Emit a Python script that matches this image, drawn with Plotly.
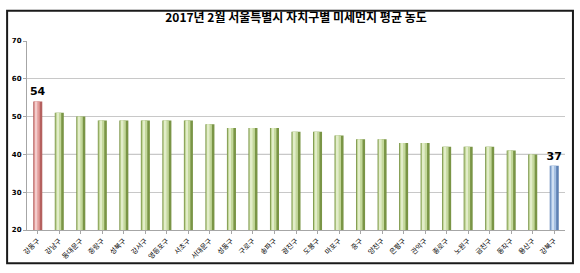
import plotly.graph_objects as go

title = "2017년 2월 서울특별시 자치구별 미세먼지 평균 농도"
districts = ["강동구", "강남구", "동대문구", "중랑구", "성북구", "강서구", "영등포구", "서초구",
             "서대문구", "성동구", "구로구", "송파구", "광진구", "도봉구", "마포구", "중구",
             "양천구", "은평구", "관악구", "종로구", "노원구", "금천구", "동작구", "용산구", "강북구"]
values = [54, 51, 50, 49, 49, 49, 49, 49, 48, 47, 47, 47, 46, 46, 45, 44,
          44, 43, 43, 42, 42, 42, 41, 40, 37]
y_ticks = [20, 30, 40, 50, 60, 70]

W, H = 580, 273
L, R, T, B = 24, 15, 41, 39
pw, ph = W - L - R, H - T - B

def px(x):
    return (x - L) / pw

def py(y):
    return (H - B - y) / ph

n = len(values)
dark = ["#b5615f" if i == 0 else ("#5d80b3" if i == n - 1 else "#7a9546") for i in range(n)]
mid = ["#e39c9a" if i == 0 else ("#a4bfe2" if i == n - 1 else "#c4d89c") for i in range(n)]
light = ["#f3cccb" if i == 0 else ("#cfdff2" if i == n - 1 else "#e2edc9") for i in range(n)]
labels = ["<b>" + str(v) + "</b>" if i in (0, n - 1) else "" for i, v in enumerate(values)]

fig = go.Figure()
fig.add_trace(go.Bar(x=districts, y=values, width=0.42, marker=dict(color=dark, line=dict(width=0)),
                     hoverinfo="skip"))
fig.add_trace(go.Bar(x=districts, y=values, width=0.26, offset=-0.17, marker=dict(color=mid, line=dict(width=0)),
                     hoverinfo="skip"))
fig.add_trace(go.Bar(x=districts, y=values, width=0.08, offset=-0.1, marker=dict(color=light, line=dict(width=0)),
                     hoverinfo="skip"))
fig.add_trace(go.Bar(x=districts, y=values, width=0.42, marker=dict(color="rgba(0,0,0,0)", line=dict(width=0)),
                     text=labels, textposition="outside", cliponaxis=False, constraintext="none",
                     textfont=dict(family="DejaVu Sans", size=11, color="#000000"),
                     hoverinfo="skip"))

shapes = [
    dict(type="line", xref="paper", yref="y", x0=0, x1=1, y0=40, y1=40,
         line=dict(color="#6f6f6f", width=1), layer="below"),
    dict(type="rect", xref="paper", yref="paper", x0=px(4), x1=px(573), y0=py(10), y1=py(268),
         line=dict(color="#1a1a1a", width=2), layer="below"),
]

fig.update_layout(
    width=W, height=H,
    margin=dict(l=L, r=R, t=T, b=B),
    paper_bgcolor="white", plot_bgcolor="white",
    barmode="overlay", bargap=0.2, showlegend=False,
    shapes=shapes,
    title=dict(text="<b>" + title + "</b>", x=0.5, xref="paper", xanchor="center",
               y=1 - 18 / H, yanchor="middle",
               font=dict(family="Noto Sans CJK KR", size=12, color="#000000")),
    xaxis=dict(tickangle=-45, tickfont=dict(family="Noto Sans CJK KR", size=7, color="#000000"),
               showline=True, linecolor="#a6a6a6", linewidth=1, ticks="outside", ticklen=3,
               tickcolor="#a6a6a6", showgrid=False, fixedrange=True),
    yaxis=dict(range=[20, 70], tickvals=y_ticks, ticktext=["<b>%d</b>" % v for v in y_ticks],
               showline=True, linecolor="#a6a6a6",
               ticks="outside", ticklen=3, tickcolor="#a6a6a6",
               gridcolor="#c8c8c8", gridwidth=1, zeroline=False,
               tickfont=dict(family="DejaVu Sans", size=7, color="#000000"), fixedrange=True),
)

fig.write_html("out.html")
